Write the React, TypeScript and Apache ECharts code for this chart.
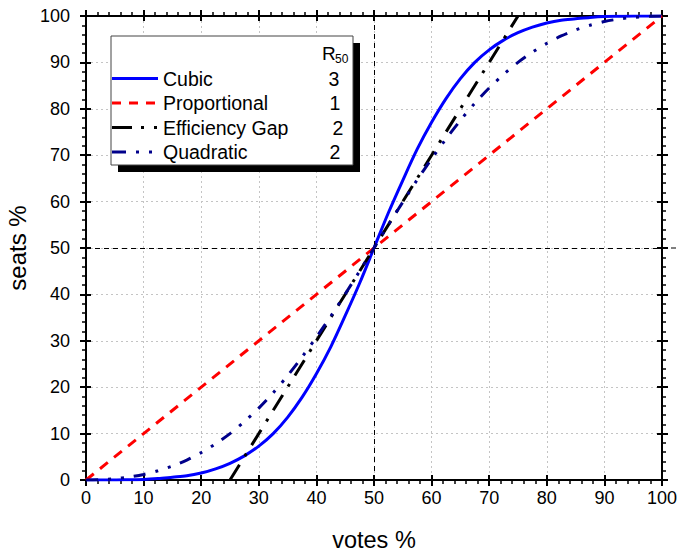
import React, { useEffect, useRef } from "react";
import * as echarts from "echarts";

const votes = [
  0, 2.5, 5, 7.5, 10, 12.5, 15, 17.5, 20, 22.5, 25, 27.5, 30, 32.5, 35, 37.5, 40, 42.5, 45, 47.5, 50,
  52.5, 55, 57.5, 60, 62.5, 65, 67.5, 70, 72.5, 75, 77.5, 80, 82.5, 85, 87.5, 90, 92.5, 95, 97.5, 100,
];
const cubicSeats = [
  0, 0, 0, 0.05, 0.1, 0.3, 0.6, 0.9, 1.5, 2.4, 3.6, 5.2, 7.3, 10.0, 13.5, 17.8, 22.9, 28.7, 35.4, 42.4, 50,
  57.6, 64.6, 71.3, 77.1, 82.2, 86.5, 90.0, 92.7, 94.8, 96.4, 97.6, 98.5, 99.1, 99.4, 99.7, 99.9, 99.95, 100, 100, 100,
];
const quadraticSeats = [
  0, 0.07, 0.3, 0.65, 1.2, 2.0, 3.0, 4.3, 5.9, 7.8, 10.0, 12.6, 15.5, 18.8, 22.5, 26.5, 30.8, 35.3, 40.1, 45.0, 50,
  55.0, 59.9, 64.7, 69.2, 73.5, 77.5, 81.2, 84.5, 87.4, 90.0, 92.2, 94.1, 95.7, 97.0, 98.0, 98.8, 99.35, 99.7, 99.93, 100,
];
const proportionalVotes = [0, 100];
const proportionalSeats = [0, 100];
const effGapVotes = [25, 75];
const effGapSeats = [0, 100];

const seriesNames = ["Cubic", "Proportional", "Efficiency Gap", "Quadratic"];
const r50Values = ["3", "1", "2", "2"];

const FONT = 'Arial, "Liberation Sans", sans-serif';

const pairs = (xs: number[], ys: number[]) => xs.map((x, i) => [x, ys[i]]);

function axisSet(kind: "x" | "y", withLabels: boolean, position: string, inside: boolean) {
  const base: any = {
    type: "value",
    min: 0,
    max: 100,
    interval: 10,
    position,
    axisLine: { show: !inside, onZero: false, lineStyle: { color: "#000", width: 2 } },
    axisTick: { show: true, inside, length: inside ? 5 : 6, lineStyle: { color: "#000", width: 2 } },
    minorTick: { show: !inside, splitNumber: 5, length: 4, lineStyle: { color: "#000", width: 1.5 } },
    axisLabel: {
      show: withLabels,
      color: "#000",
      fontSize: 18,
      fontFamily: FONT,
      margin: kind === "x" ? 9 : 16,
    },
    splitLine: {
      show: withLabels,
      lineStyle: { color: "#c4c4c4", type: [2, 3], width: 1 },
    },
    minorSplitLine: { show: false },
  };
  if (withLabels) {
    base.name = kind === "x" ? "votes %" : "seats %";
    base.nameLocation = "middle";
    base.nameGap = kind === "x" ? 48 : 51;
    base.nameTextStyle = { color: "#000", fontSize: kind === "x" ? 23.5 : 24, fontFamily: FONT };
  }
  return base;
}

export default function App() {
  const ref = useRef<HTMLDivElement>(null);
  useEffect(() => {
    if (!ref.current) return;
    const chart = echarts.init(ref.current, null, { renderer: "svg" });
    const legendY = [78.5, 103, 127.5, 152];
    const legendColors = ["#0000ff", "#ff0000", "#000000", "#00008b"];
    const legendDash: any[] = [null, [9, 8], [20, 9, 3, 10, 3, 100], [14, 10, 3, 10, 3, 100]];
    const r50X = [334, 335, 338, 335];
    const graphic: any[] = [
      { type: "rect", shape: { x: 118, y: 43, width: 242, height: 129 }, style: { fill: "#000" }, z: 100 },
      { type: "rect", shape: { x: 111, y: 36, width: 242, height: 129 }, style: { fill: "#fff", stroke: "#444", lineWidth: 1 }, z: 101 },
      { type: "text", x: 322, y: 53, style: { text: "R", fontSize: 19, fontFamily: FONT, fill: "#000", verticalAlign: "middle" }, z: 102 },
      { type: "text", x: 335, y: 59, style: { text: "50", fontSize: 12, fontFamily: FONT, fill: "#000", verticalAlign: "middle" }, z: 102 },
      { type: "line", shape: { x1: 662, y1: 248, x2: 677, y2: 248 }, style: { stroke: "#000", lineWidth: 1, lineDash: [5, 4] }, z: 50 },
    ];
    seriesNames.forEach((name, i) => {
      graphic.push({
        type: "line",
        shape: { x1: 112, y1: legendY[i], x2: 158, y2: legendY[i] },
        style: { stroke: legendColors[i], lineWidth: 3, lineDash: legendDash[i] || undefined },
        z: 102,
      });
      graphic.push({
        type: "text",
        x: 163,
        y: legendY[i],
        style: { text: name, fontSize: 19.5, fontFamily: FONT, fill: "#000", verticalAlign: "middle" },
        z: 102,
      });
      graphic.push({
        type: "text",
        x: r50X[i],
        y: legendY[i],
        style: { text: r50Values[i], fontSize: 19.5, fontFamily: FONT, fill: "#000", verticalAlign: "middle", align: "center" },
        z: 102,
      });
    });

    chart.setOption({
      animation: false,
      backgroundColor: "#fff",
      grid: { left: 86, top: 16, right: 16, bottom: 72, containLabel: false, outerBoundsMode: "none" },
      xAxis: [
        axisSet("x", true, "bottom", false),
        axisSet("x", false, "top", false),
        axisSet("x", false, "bottom", true),
        axisSet("x", false, "top", true),
      ],
      yAxis: [
        axisSet("y", true, "left", false),
        axisSet("y", false, "right", false),
        axisSet("y", false, "left", true),
        axisSet("y", false, "right", true),
      ],
      series: [
        {
          name: "Cubic",
          type: "line",
          data: pairs(votes, cubicSeats),
          smooth: 0.3,
          showSymbol: false,
          lineStyle: { color: "#0000ff", width: 3 },
          z: 3,
        },
        {
          name: "Proportional",
          type: "line",
          data: pairs(proportionalVotes, proportionalSeats),
          showSymbol: false,
          lineStyle: { color: "#ff0000", width: 3, type: [10, 8] },
          z: 4,
          markLine: {
            silent: true,
            symbol: "none",
            label: { show: false },
            lineStyle: { color: "#000", width: 1, type: [5, 4] },
            data: [{ xAxis: 50 }, { yAxis: 50 }],
          },
        },
        {
          name: "Efficiency Gap",
          type: "line",
          data: pairs(effGapVotes, effGapSeats),
          showSymbol: false,
          lineStyle: { color: "#000000", width: 3, type: [18, 10, 3, 10] },
          z: 5,
        },
        {
          name: "Quadratic",
          type: "line",
          data: pairs(votes, quadraticSeats),
          smooth: 0.3,
          showSymbol: false,
          lineStyle: { color: "#00008b", width: 3, type: [12, 10, 3, 10, 3, 10] },
          z: 6,
        },
      ],
      graphic,
    });
    return () => chart.dispose();
  }, []);
  return <div ref={ref} style={{ position: "fixed", left: 0, top: 0, width: 678, height: 552 }} />;
}
